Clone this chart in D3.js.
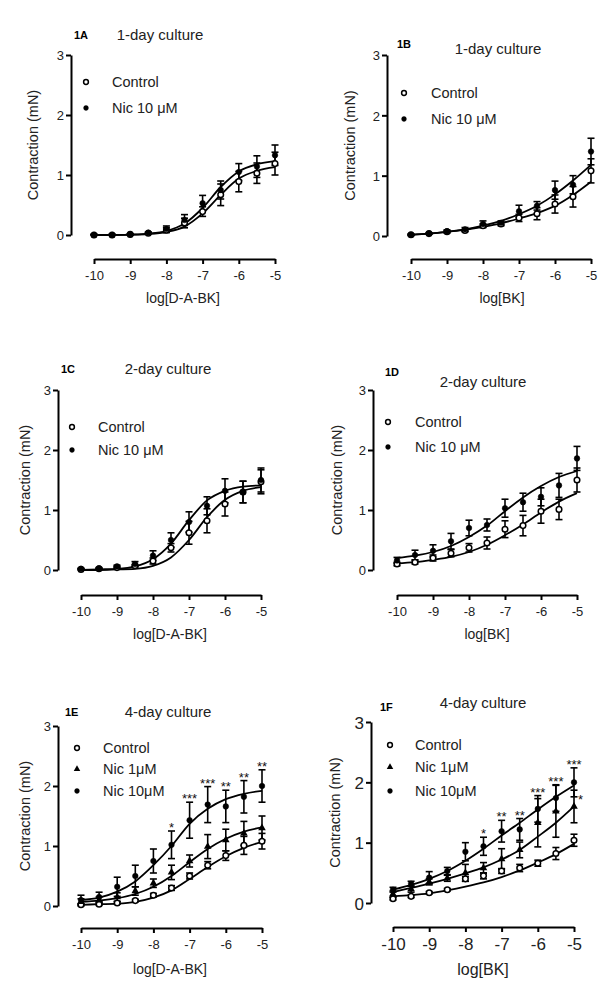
<!DOCTYPE html>
<html>
<head>
<meta charset="utf-8">
<script src="https://cdn.jsdelivr.net/npm/d3@7"></script>
<style>
body { margin: 0; background: #fff; }
svg { display: block; font-family: "Liberation Sans", Arial, sans-serif; }
</style>
</head>
<body>
<script>
// DATA

var doses = [-10, -9.5, -9, -8.5, -8, -7.5, -7, -6.5, -6, -5.5, -5];
var xTicks = [-10, -9, -8, -7, -6, -5];
var yTicks = [0, 1, 2, 3];

// 1A  1-day culture, D-A-BK
var aCtrl    = [0.00, 0.00, 0.01, 0.03, 0.08, 0.20, 0.39, 0.67, 0.89, 1.03, 1.19];
var aCtrlSem = [0.01, 0.01, 0.01, 0.01, 0.04, 0.08, 0.08, 0.18, 0.17, 0.17, 0.19];
var aCtrlFit = [0.00, 0.00, 0.005, 0.016, 0.05, 0.14, 0.36, 0.67, 0.94, 1.07, 1.13];
var aNic     = [0.00, 0.00, 0.01, 0.04, 0.10, 0.25, 0.53, 0.75, 1.05, 1.14, 1.33];
var aNicSem  = [0.01, 0.01, 0.01, 0.01, 0.05, 0.09, 0.13, 0.15, 0.14, 0.18, 0.17];
var aNicFit  = [0.00, 0.002, 0.007, 0.022, 0.066, 0.19, 0.45, 0.80, 1.06, 1.18, 1.23];

// 1B  1-day culture, BK
var bCtrl    = [0.02, 0.04, 0.07, 0.09, 0.17, 0.20, 0.30, 0.37, 0.53, 0.65, 1.08];
var bCtrlSem = [0.01, 0.01, 0.02, 0.02, 0.03, 0.03, 0.06, 0.10, 0.15, 0.17, 0.20];
var bCtrlFit = [0.02, 0.04, 0.07, 0.10, 0.15, 0.21, 0.29, 0.38, 0.50, 0.68, 0.90];
var bNic     = [0.02, 0.04, 0.08, 0.11, 0.20, 0.22, 0.41, 0.50, 0.76, 0.85, 1.40];
var bNicSem  = [0.01, 0.01, 0.02, 0.03, 0.05, 0.03, 0.10, 0.07, 0.15, 0.15, 0.22];
var bNicFit  = [0.02, 0.04, 0.07, 0.11, 0.17, 0.25, 0.36, 0.50, 0.69, 0.92, 1.18];

// 1C  2-day culture, D-A-BK
var cCtrl    = [0.01, 0.02, 0.04, 0.07, 0.15, 0.37, 0.62, 0.82, 1.10, 1.30, 1.47];
var cCtrlSem = [0.01, 0.01, 0.02, 0.02, 0.05, 0.07, 0.19, 0.20, 0.20, 0.18, 0.20];
var cCtrlFit = [0.00, 0.00, 0.01, 0.02, 0.07, 0.21, 0.50, 0.88, 1.17, 1.32, 1.38];
var cNic     = [0.02, 0.03, 0.06, 0.10, 0.24, 0.50, 0.80, 1.07, 1.32, 1.30, 1.50];
var cNicSem  = [0.01, 0.01, 0.02, 0.04, 0.08, 0.12, 0.17, 0.15, 0.20, 0.18, 0.20];
var cNicFit  = [0.00, 0.01, 0.02, 0.06, 0.18, 0.44, 0.83, 1.16, 1.32, 1.39, 1.41];

// 1D  2-day culture, BK
var dCtrl    = [0.10, 0.13, 0.20, 0.28, 0.37, 0.45, 0.68, 0.74, 0.98, 1.01, 1.50];
var dCtrlSem = [0.03, 0.03, 0.05, 0.06, 0.07, 0.10, 0.14, 0.17, 0.20, 0.17, 0.20];
var dCtrlFit = [0.11, 0.13, 0.17, 0.22, 0.30, 0.42, 0.58, 0.76, 0.96, 1.14, 1.28];
var dNic     = [0.16, 0.25, 0.32, 0.48, 0.70, 0.75, 1.03, 1.13, 1.22, 1.41, 1.86];
var dNicSem  = [0.05, 0.08, 0.10, 0.13, 0.13, 0.10, 0.15, 0.15, 0.15, 0.20, 0.20];
var dNicFit  = [0.20, 0.24, 0.30, 0.40, 0.55, 0.74, 0.98, 1.21, 1.40, 1.55, 1.65];

// 1E  4-day culture, D-A-BK
var eCtrl     = [0.02, 0.03, 0.05, 0.09, 0.18, 0.30, 0.50, 0.68, 0.84, 1.01, 1.08];
var eCtrlSem  = [0.02, 0.02, 0.02, 0.02, 0.03, 0.04, 0.05, 0.06, 0.08, 0.15, 0.13];
var eCtrlFit  = [0.02, 0.03, 0.04, 0.07, 0.14, 0.26, 0.45, 0.65, 0.83, 0.97, 1.07];
var eNic1     = [0.07, 0.10, 0.15, 0.25, 0.38, 0.56, 0.75, 0.99, 1.10, 1.21, 1.30];
var eNic1Sem  = [0.05, 0.05, 0.07, 0.07, 0.07, 0.12, 0.10, 0.20, 0.18, 0.20, 0.20];
var eNic1Fit  = [0.07, 0.09, 0.13, 0.20, 0.32, 0.50, 0.73, 0.95, 1.12, 1.24, 1.31];
var eNic10    = [0.10, 0.15, 0.32, 0.50, 0.75, 1.02, 1.43, 1.69, 1.66, 1.82, 2.00];
var eNic10Sem = [0.08, 0.08, 0.16, 0.18, 0.20, 0.23, 0.30, 0.30, 0.27, 0.27, 0.27];
var eNic10Fit = [0.10, 0.14, 0.24, 0.41, 0.68, 1.00, 1.37, 1.62, 1.78, 1.87, 1.92];
var eStars10  = ["", "", "", "", "", "*", "***", "***", "**", "**", "**"];

// 1F  4-day culture, BK
var fCtrl     = [0.07, 0.11, 0.17, 0.22, 0.40, 0.45, 0.53, 0.58, 0.66, 0.82, 1.04];
var fCtrlSem  = [0.02, 0.02, 0.02, 0.02, 0.04, 0.05, 0.04, 0.06, 0.05, 0.10, 0.10];
var fCtrlFit  = [0.11, 0.13, 0.16, 0.21, 0.27, 0.34, 0.43, 0.54, 0.67, 0.81, 0.98];
var fNic1     = [0.15, 0.23, 0.35, 0.41, 0.50, 0.58, 0.73, 0.88, 1.33, 1.52, 1.60];
var fNic1Sem  = [0.05, 0.05, 0.05, 0.05, 0.14, 0.09, 0.17, 0.13, 0.40, 0.43, 0.27];
var fNic1Fit  = [0.18, 0.25, 0.32, 0.40, 0.49, 0.59, 0.72, 0.88, 1.10, 1.33, 1.60];
var fNic10    = [0.22, 0.32, 0.42, 0.53, 0.85, 0.94, 1.19, 1.22, 1.56, 1.74, 2.00];
var fNic10Sem = [0.04, 0.04, 0.10, 0.06, 0.15, 0.15, 0.18, 0.18, 0.22, 0.22, 0.24];
var fNic10Fit = [0.22, 0.30, 0.40, 0.53, 0.70, 0.90, 1.12, 1.33, 1.55, 1.76, 1.95];
var fStars10  = ["", "", "", "", "", "*", "**", "**", "***", "***", "***"];
var fStars1   = ["", "", "", "", "", "", "", "", "", "", "*"];

var legendTwo   = ["Control", "Nic 10 \u03bcM"];
var legendThree = ["Control", "Nic 1\u03bcM", "Nic 10\u03bcM"];

// PANEL LAYOUT

var panels = [
  { tag: "1A", title: "1-day culture", xlabel: "log[D-A-BK]", legend: legendTwo,
    x0: 94, x1: 275, y0: 235, y1: 55, yAxisX: 71, xAxisY: 259,
    tagX: 74, tagY: 39, titleX: 160, titleY: 40, legX: 86, legY: [82, 108], legTextX: 112,
    ylabX: 33, xlabX: 183, xlabY: 303, tickFont: 13, xlabFont: 14,
    series: [
      { mean: aCtrl, sem: aCtrlSem, fit: aCtrlFit, mark: "open" },
      { mean: aNic, sem: aNicSem, fit: aNicFit, mark: "filled" }
    ] },
  { tag: "1B", title: "1-day culture", xlabel: "log[BK]", legend: legendTwo,
    x0: 411, x1: 591, y0: 236, y1: 55, yAxisX: 387, xAxisY: 259,
    tagX: 397, tagY: 48, titleX: 498, titleY: 54, legX: 404, legY: [93, 119], legTextX: 431,
    ylabX: 350, xlabX: 502, xlabY: 303, tickFont: 13, xlabFont: 14,
    series: [
      { mean: bCtrl, sem: bCtrlSem, fit: bCtrlFit, mark: "open" },
      { mean: bNic, sem: bNicSem, fit: bNicFit, mark: "filled" }
    ] },
  { tag: "1C", title: "2-day culture", xlabel: "log[D-A-BK]", legend: legendTwo,
    x0: 81, x1: 261, y0: 570, y1: 390, yAxisX: 58, xAxisY: 595,
    tagX: 61, tagY: 373, titleX: 168, titleY: 374, legX: 72, legY: [427, 450], legTextX: 98,
    ylabX: 25, xlabX: 170, xlabY: 639, tickFont: 13, xlabFont: 14,
    series: [
      { mean: cCtrl, sem: cCtrlSem, fit: cCtrlFit, mark: "open" },
      { mean: cNic, sem: cNicSem, fit: cNicFit, mark: "filled" }
    ] },
  { tag: "1D", title: "2-day culture", xlabel: "log[BK]", legend: legendTwo,
    x0: 397, x1: 577, y0: 570, y1: 390, yAxisX: 373, xAxisY: 595,
    tagX: 385, tagY: 376, titleX: 483, titleY: 387, legX: 388, legY: [422, 447], legTextX: 415,
    ylabX: 337, xlabX: 487, xlabY: 639, tickFont: 13, xlabFont: 14,
    series: [
      { mean: dCtrl, sem: dCtrlSem, fit: dCtrlFit, mark: "open" },
      { mean: dNic, sem: dNicSem, fit: dNicFit, mark: "filled" }
    ] },
  { tag: "1E", title: "4-day culture", xlabel: "log[D-A-BK]", legend: legendThree,
    x0: 81, x1: 262, y0: 906, y1: 726, yAxisX: 58, xAxisY: 928,
    tagX: 65, tagY: 716, titleX: 168, titleY: 717, legX: 77, legY: [748, 769, 791], legTextX: 103,
    ylabX: 25, xlabX: 170, xlabY: 974, tickFont: 13, xlabFont: 14,
    series: [
      { mean: eCtrl, sem: eCtrlSem, fit: eCtrlFit, mark: "open" },
      { mean: eNic1, sem: eNic1Sem, fit: eNic1Fit, mark: "triangle" },
      { mean: eNic10, sem: eNic10Sem, fit: eNic10Fit, mark: "filled", stars: eStars10 }
    ] },
  { tag: "1F", title: "4-day culture", xlabel: "log[BK]", legend: legendThree,
    x0: 393, x1: 574, y0: 903, y1: 722, yAxisX: 371, xAxisY: 927,
    tagX: 380, tagY: 711, titleX: 483, titleY: 708, legX: 390, legY: [745, 767, 791], legTextX: 415,
    ylabX: 335, xlabX: 483, xlabY: 975, tickFont: 17, xlabFont: 16,
    series: [
      { mean: fCtrl, sem: fCtrlSem, fit: fCtrlFit, mark: "open" },
      { mean: fNic1, sem: fNic1Sem, fit: fNic1Fit, mark: "triangle", stars: fStars1, starSide: true },
      { mean: fNic10, sem: fNic10Sem, fit: fNic10Fit, mark: "filled", stars: fStars10 }
    ] }
];

// SVG WRAPPER

var svg = d3.select("body")
  .append("svg")
  .attr("width", 600)
  .attr("height", 1003);

function drawMarker(sel, kind, r) {
  if (kind === "triangle") {
    sel.append("path")
      .attr("d", d3.symbol(d3.symbolTriangle, r * r * 3.2)())
      .attr("fill", "#000");
  } else {
    sel.append("circle")
      .attr("r", r)
      .attr("fill", kind === "open" ? "#fff" : "#000")
      .attr("stroke", "#000")
      .attr("stroke-width", kind === "open" ? 1.5 : 0.5);
  }
}

function drawPanel(p) {
  var g = svg.append("g");

  var xScale = d3.scaleLinear().domain([-10, -5]).range([p.x0, p.x1]);
  var yScale = d3.scaleLinear().domain([0, 3]).range([p.y0, p.y1]);

  // AXES
  var yAxis = g.append("g")
    .attr("transform", `translate(${p.yAxisX},0)`)
    .call(d3.axisLeft(yScale).tickValues(yTicks).tickFormat(d3.format("d"))
      .tickSize(5).tickSizeOuter(0).tickPadding(2));

  var xAxis = g.append("g")
    .attr("transform", `translate(0,${p.xAxisY})`)
    .call(d3.axisBottom(xScale).tickValues(xTicks).tickFormat(d => d)
      .tickSize(5).tickSizeOuter(0).tickPadding(p.tickFont > 14 ? 6 : 7));

  [yAxis, xAxis].forEach(function(ax) {
    ax.attr("font-family", null).attr("font-size", p.tickFont);
    ax.select(".domain").attr("stroke", "#000").attr("stroke-width", 2);
    ax.selectAll(".tick line").attr("stroke", "#000").attr("stroke-width", 2);
    ax.selectAll(".tick text").attr("fill", "#222");
  });
  xAxis.selectAll(".tick text").text(d => String(d));
  yAxis.selectAll(".tick text").attr("dy", "0.36em");

  // LABELS
  g.append("text")
    .attr("x", p.tagX).attr("y", p.tagY)
    .attr("font-size", 11).attr("font-weight", "bold")
    .text(p.tag);

  g.append("text")
    .attr("x", p.titleX).attr("y", p.titleY)
    .attr("text-anchor", "middle").attr("font-size", 15).attr("fill", "#222")
    .text(p.title);

  g.append("text")
    .attr("transform", `translate(${p.ylabX},${(p.y0 + p.y1) / 2}) rotate(-90)`)
    .attr("text-anchor", "middle").attr("dominant-baseline", "central")
    .attr("font-size", 14.5).attr("fill", "#222")
    .text("Contraction (mN)");

  g.append("text")
    .attr("x", p.xlabX).attr("y", p.xlabY)
    .attr("text-anchor", "middle").attr("font-size", p.xlabFont).attr("fill", "#222")
    .text(p.xlabel);

  // LEGEND
  p.legend.forEach(function(name, i) {
    var m = g.append("g").attr("transform", `translate(${p.legX},${p.legY[i]})`);
    drawMarker(m, p.series[i].mark, 2.4);
    g.append("text")
      .attr("x", p.legTextX).attr("y", p.legY[i] + 5)
      .attr("font-size", 14.5).attr("fill", "#222")
      .text(name);
  });

  var line = d3.line()
    .x(d => xScale(d[0]))
    .y(d => yScale(d[1]))
    .curve(d3.curveMonotoneX);

  // ERROR BARS
  p.series.forEach(function(s) {
    var eb = g.append("g").attr("stroke", "#000").attr("stroke-width", 1.6);
    doses.forEach(function(dose, i) {
      var cx = xScale(dose);
      var yHi = yScale(s.mean[i] + s.sem[i]);
      var yLo = yScale(Math.max(0, s.mean[i] - s.sem[i]));
      eb.append("line").attr("x1", cx).attr("x2", cx).attr("y1", yHi).attr("y2", yLo);
      eb.append("line").attr("x1", cx - 3.5).attr("x2", cx + 3.5).attr("y1", yHi).attr("y2", yHi);
      eb.append("line").attr("x1", cx - 3.5).attr("x2", cx + 3.5).attr("y1", yLo).attr("y2", yLo);
    });
  });

  // FITTED CURVES
  p.series.forEach(function(s) {
    g.append("path")
      .datum(doses.map((dose, i) => [dose, s.fit[i]]))
      .attr("d", line)
      .attr("fill", "none")
      .attr("stroke", "#000")
      .attr("stroke-width", 1.8);
  });

  // DATA POINTS
  p.series.forEach(function(s) {
    doses.forEach(function(dose, i) {
      var m = g.append("g").attr("transform", `translate(${xScale(dose)},${yScale(s.mean[i])})`);
      drawMarker(m, s.mark, 2.8);
    });
  });

  // SIGNIFICANCE STARS
  p.series.forEach(function(s) {
    if (!s.stars) return;
    doses.forEach(function(dose, i) {
      if (!s.stars[i]) return;
      var t = g.append("text")
        .attr("font-size", 13).attr("fill", "#111")
        .text(s.stars[i]);
      if (s.starSide) {
        t.attr("x", xScale(dose) + 4).attr("y", yScale(s.mean[i]) - 2);
      } else {
        t.attr("x", xScale(dose)).attr("y", yScale(s.mean[i] + s.sem[i]) + 1)
          .attr("text-anchor", "middle");
      }
    });
  });
}

panels.forEach(drawPanel);
</script>
</body>
</html>
